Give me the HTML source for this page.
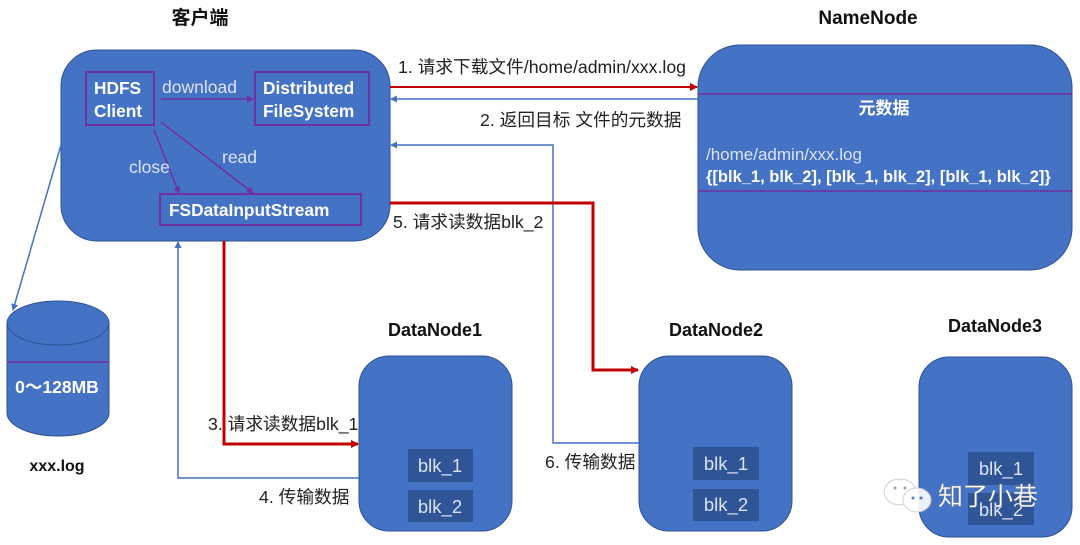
<!DOCTYPE html>
<html><head><meta charset="utf-8"><style>
html,body{margin:0;padding:0;background:#fff;}
svg{display:block;font-family:"Liberation Sans","Noto Sans CJK SC",sans-serif;}
</style></head><body>
<svg width="1080" height="545" viewBox="0 0 1080 545" xmlns="http://www.w3.org/2000/svg">
<defs>
<marker id="ar" markerWidth="8" markerHeight="8" refX="7" refY="4" orient="auto" markerUnits="userSpaceOnUse"><path d="M0,0 L8,4 L0,8 z" fill="#C00000"/></marker>
<marker id="ab" markerWidth="7" markerHeight="7" refX="6" refY="3.5" orient="auto" markerUnits="userSpaceOnUse"><path d="M0,0 L7,3.5 L0,7 z" fill="#4472C4"/></marker>
<marker id="ap" markerWidth="7" markerHeight="7" refX="6" refY="3.5" orient="auto" markerUnits="userSpaceOnUse"><path d="M0,0 L7,3.5 L0,7 z" fill="#7030A0"/></marker>
</defs>
<text x="200" y="24" font-size="19" font-weight="bold" text-anchor="middle" fill="#111">客户端</text>
<text x="868" y="24" font-size="19" font-weight="bold" text-anchor="middle" fill="#111">NameNode</text>
<text x="435" y="336" font-size="18" font-weight="bold" text-anchor="middle" fill="#111">DataNode1</text>
<text x="716" y="336" font-size="18" font-weight="bold" text-anchor="middle" fill="#111">DataNode2</text>
<text x="995" y="332" font-size="18" font-weight="bold" text-anchor="middle" fill="#111">DataNode3</text>
<text x="57" y="471" font-size="16" font-weight="bold" text-anchor="middle" fill="#111">xxx.log</text>

<rect x="61" y="50" width="329" height="191" rx="36" fill="#4472C4" stroke="#2F528F" stroke-width="1"/>
<rect x="86" y="72" width="68" height="53" fill="none" stroke="#7030A0" stroke-width="2"/>
<text x="94" y="94" font-size="17.3" font-weight="bold" fill="#fff">HDFS</text>
<text x="94" y="117" font-size="17.3" font-weight="bold" fill="#fff">Client</text>
<rect x="255" y="72" width="114" height="53" fill="none" stroke="#7030A0" stroke-width="2"/>
<text x="263" y="94" font-size="17.3" font-weight="bold" fill="#fff">Distributed</text>
<text x="263" y="117" font-size="17.3" font-weight="bold" fill="#fff">FileSystem</text>
<rect x="160" y="194" width="201" height="31" fill="none" stroke="#7030A0" stroke-width="2"/>
<text x="169" y="216" font-size="17.3" font-weight="bold" fill="#fff">FSDataInputStream</text>
<line x1="161" y1="99" x2="253" y2="99" stroke="#7030A0" stroke-width="1.5" marker-end="url(#ap)"/>
<text x="162" y="93" font-size="17.5" fill="#dbe3f5">download</text>
<line x1="154" y1="130" x2="179" y2="193" stroke="#7030A0" stroke-width="1.5" marker-end="url(#ap)"/>
<line x1="161" y1="122" x2="253" y2="193" stroke="#7030A0" stroke-width="1.5" marker-end="url(#ap)"/>
<text x="129" y="173" font-size="17.5" fill="#dbe3f5">close</text>
<text x="222" y="163" font-size="17.5" fill="#dbe3f5">read</text>

<rect x="698" y="45" width="374" height="225" rx="42" fill="#4472C4" stroke="#2F528F" stroke-width="1"/>
<line x1="698" y1="94" x2="1072" y2="94" stroke="#7030A0" stroke-width="1.5"/>
<line x1="698" y1="191" x2="1072" y2="191" stroke="#7030A0" stroke-width="1.5"/>
<text x="884" y="114" font-size="17" font-weight="bold" fill="#fff" text-anchor="middle">元数据</text>
<text x="706" y="160" font-size="17" fill="#dbe3f5">/home/admin/xxx.log</text>
<text x="706" y="182" font-size="16.5" font-weight="bold" fill="#fff">{[blk_1, blk_2], [blk_1, blk_2], [blk_1, blk_2]}</text>

<path d="M7,323 L7,413 A51,23 0 0 0 109,413 L109,323" fill="#4472C4" stroke="#2F528F"/>
<ellipse cx="58" cy="323" rx="51" ry="22" fill="#4472C4" stroke="#2F528F"/>
<line x1="7" y1="362" x2="109" y2="362" stroke="#7030A0" stroke-width="1.5"/>
<text x="57" y="393" font-size="17.5" font-weight="bold" fill="#fff" text-anchor="middle">0～128MB</text>

<rect x="359" y="356" width="153" height="175" rx="30" fill="#4472C4" stroke="#2F528F"/>
<rect x="639" y="356" width="153" height="175" rx="30" fill="#4472C4" stroke="#2F528F"/>
<rect x="919" y="357" width="153" height="180" rx="30" fill="#4472C4" stroke="#2F528F"/>
<g fill="#2F5597">
<rect x="408" y="449" width="65" height="33"/><rect x="408" y="490" width="65" height="32"/>
<rect x="693" y="447" width="66" height="33"/><rect x="693" y="489" width="66" height="32"/>
<rect x="968" y="452" width="66" height="33"/><rect x="968" y="493" width="66" height="32"/>
</g>
<g font-size="18.5" fill="#dbe3f5" text-anchor="middle">
<text x="440" y="472">blk_1</text><text x="440" y="513">blk_2</text>
<text x="726" y="470">blk_1</text><text x="726" y="511">blk_2</text>
<text x="1001" y="475">blk_1</text><text x="1001" y="516">blk_2</text>
</g>

<line x1="390" y1="87" x2="697" y2="87" stroke="#C00000" stroke-width="2" marker-end="url(#ar)"/>
<line x1="698" y1="99" x2="391" y2="99" stroke="#4472C4" stroke-width="1.5" marker-end="url(#ab)"/>
<polyline points="639,443 553,443 553,145 391,145" fill="none" stroke="#4472C4" stroke-width="1.5" marker-end="url(#ab)"/>
<polyline points="390,203 593,203 593,370 638,370" fill="none" stroke="#C00000" stroke-width="3" marker-end="url(#ar)"/>
<polyline points="224,241 224,444 358,444" fill="none" stroke="#C00000" stroke-width="3" marker-end="url(#ar)"/>
<polyline points="359,478 178,478 178,242" fill="none" stroke="#4472C4" stroke-width="1.5" marker-end="url(#ab)"/>
<line x1="61" y1="145" x2="13" y2="310" stroke="#4472C4" stroke-width="1.5" marker-end="url(#ab)"/>

<g font-size="17.7" fill="#222">
<text x="398" y="73">1. 请求下载文件/home/admin/xxx.log</text>
<text x="480" y="126">2. 返回目标 文件的元数据</text>
<text x="393" y="228">5. 请求读数据blk_2</text>
<text x="208" y="430">3. 请求读数据blk_1</text>
<text x="259" y="503">4. 传输数据</text>
<text x="545" y="468">6. 传输数据</text>
</g>

<g opacity="0.9">
<ellipse cx="900" cy="492" rx="16" ry="13" fill="#fff" stroke="#ccc"/>
<ellipse cx="917" cy="500" rx="14" ry="12" fill="#fff" stroke="#ccc"/>
<circle cx="895" cy="488" r="1.5" fill="#999"/><circle cx="905" cy="488" r="1.5" fill="#999"/>
<circle cx="913" cy="498" r="1.5" fill="#4472C4"/><circle cx="921" cy="498" r="1.5" fill="#4472C4"/>
</g>
<text x="938" y="505" font-size="25" fill="#fff" stroke="#999" stroke-width="0.4">知了小巷</text>
</svg>
</body></html>
